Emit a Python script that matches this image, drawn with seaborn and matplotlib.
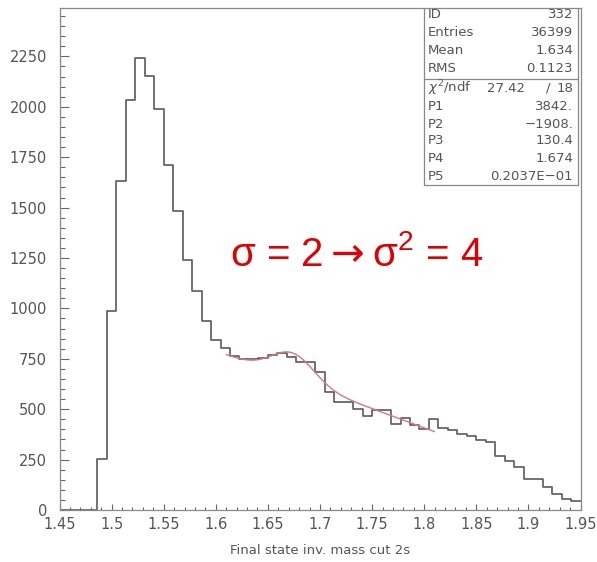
import numpy as np
import pandas as pd
import seaborn as sns
import matplotlib.pyplot as plt
from matplotlib.ticker import MultipleLocator, FuncFormatter

# Histogram: 55 equal bins on [1.45, 1.95]; the first four are empty
bin_lo, bin_hi, n_bins = 1.45, 1.95, 55
counts = [0, 0, 0, 0,
          252, 985, 1630, 2035, 2241, 2153, 1989, 1713, 1485, 1241,
          1086, 937, 845, 805, 762, 750, 750, 754, 769, 779,
          759, 734, 734, 685, 583, 536, 536, 500, 465, 495,
          495, 429, 457, 421, 401, 450, 409, 396, 379, 366,
          346, 335, 267, 244, 214, 153, 153, 112, 79, 54, 43]

# Statistics box contents
stat_labels = ["ID", "Entries", "Mean", "RMS"]
stat_values = ["332", "36399", "1.634", "0.1123"]
chi2_text, ndf_text = "27.42", "18"
fit_labels = ["P1", "P2", "P3", "P4", "P5"]
fit_values = ["3842.", "\u22121908.", "130.4", "1.674", "0.2037E\u221201"]

# Fit: linear background + gaussian, P1..P5, over the fitted range
fit_params = [3842.0, -1908.0, 130.4, 1.674, 0.2037e-01]
fit_range = (1.61, 1.81)

x_label = "Final state inv. mass cut 2s"
note_text = "\u03c3 = 2$\\rightarrow$\u03c3$^{\\mathregular{2}}$ = 4"

sns.set_style("white")
plt.rcParams["font.family"] = ["DejaVu Sans"]
plt.rcParams["mathtext.fontset"] = "dejavusans"

edges = np.linspace(bin_lo, bin_hi, n_bins + 1)
centers = 0.5 * (edges[:-1] + edges[1:])
df = pd.DataFrame({"mass": centers, "n": counts})

fig = plt.figure(figsize=(5.97, 5.62), dpi=100)
W, H = 597, 562
L, R, T, B = 59.5, 580.5, 8, 510
ax = fig.add_axes([L / W, (H - B) / H, (R - L) / W, (B - T) / H])

sns.histplot(data=df, x="mass", weights="n", bins=n_bins,
             binrange=(bin_lo, bin_hi), element="step",
             fill=False, color="#5a5a5a", linewidth=1.2, ax=ax)

p1, p2, p3, p4, p5 = fit_params
xf = np.linspace(fit_range[0], fit_range[1], 300)
yf = p1 + p2 * xf + p3 * np.exp(-0.5 * ((xf - p4) / p5) ** 2)
sns.lineplot(x=xf, y=yf, color="#d47a7a", linewidth=1.0, ax=ax)

ax.set_xlim(bin_lo, bin_hi)
ax.set_ylim(0, 2490)

ax.xaxis.set_major_locator(MultipleLocator(0.05))
ax.xaxis.set_minor_locator(MultipleLocator(0.01))
ax.yaxis.set_major_locator(MultipleLocator(250))
ax.yaxis.set_minor_locator(MultipleLocator(50))
ax.xaxis.set_major_formatter(FuncFormatter(lambda v, p: f"{v:.2f}".rstrip("0")))
ax.yaxis.set_major_formatter(FuncFormatter(lambda v, p: f"{v:.0f}"))

tick_col = "#555555"
ax.tick_params(axis="both", which="both", direction="in", color="#666666",
               labelcolor=tick_col, labelsize=10.5, width=0.8,
               bottom=True, left=True, top=False, right=False)
ax.tick_params(axis="x", which="major", length=4.5, pad=5)
ax.tick_params(axis="x", which="minor", length=2.2)
ax.tick_params(axis="y", which="major", length=6.5, pad=9)
ax.tick_params(axis="y", which="minor", length=3.6)

for s in ax.spines.values():
    s.set_color("#888888")
    s.set_linewidth(0.9)

ax.set_xlabel(x_label, color=tick_col, fontsize=9.5, labelpad=9)
ax.set_ylabel("")

# Statistics box
def fy(py):
    return (B - py) / (B - T)

def fx(px):
    return (px - L) / (R - L)

box_l, box_r, box_t, box_b, sep = 424, 578, 8, 185, 79
box_kw = dict(transform=ax.transAxes, color="#888888", linewidth=0.9)
ax.plot([fx(box_l), fx(box_l)], [fy(box_t), fy(box_b)], **box_kw)
ax.plot([fx(box_r), fx(box_r)], [fy(box_t), fy(box_b)], **box_kw)
ax.plot([fx(box_l), fx(box_r)], [fy(box_b), fy(box_b)], **box_kw)
ax.plot([fx(box_l), fx(box_r)], [fy(sep), fy(sep)], **box_kw)

txt_kw = dict(transform=ax.transAxes, color=tick_col, fontsize=9.5, va="center")
rows_a = [15, 33, 51, 69]
for lab, val, py in zip(stat_labels, stat_values, rows_a):
    ax.text(fx(428), fy(py), lab, ha="left", **txt_kw)
    ax.text(fx(573), fy(py), val, ha="right", **txt_kw)

rows_b = [88, 106, 124, 141, 159, 177]
ax.text(fx(428), fy(rows_b[0]), r"$\chi^2$/ndf", ha="left", **txt_kw)
ax.text(fx(525), fy(rows_b[0]), chi2_text, ha="right", **txt_kw)
ax.text(fx(548), fy(rows_b[0]), "/", ha="center", **txt_kw)
ax.text(fx(573), fy(rows_b[0]), ndf_text, ha="right", **txt_kw)
for lab, val, py in zip(fit_labels, fit_values, rows_b[1:]):
    ax.text(fx(428), fy(py), lab, ha="left", **txt_kw)
    ax.text(fx(573), fy(py), val, ha="right", **txt_kw)

ax.text(fx(357), fy(255), note_text, transform=ax.transAxes, ha="center",
        va="center", color="#e00000", fontsize=29,
        family=["Liberation Sans", "DejaVu Sans"])

fig.savefig("out.png", dpi=100)
